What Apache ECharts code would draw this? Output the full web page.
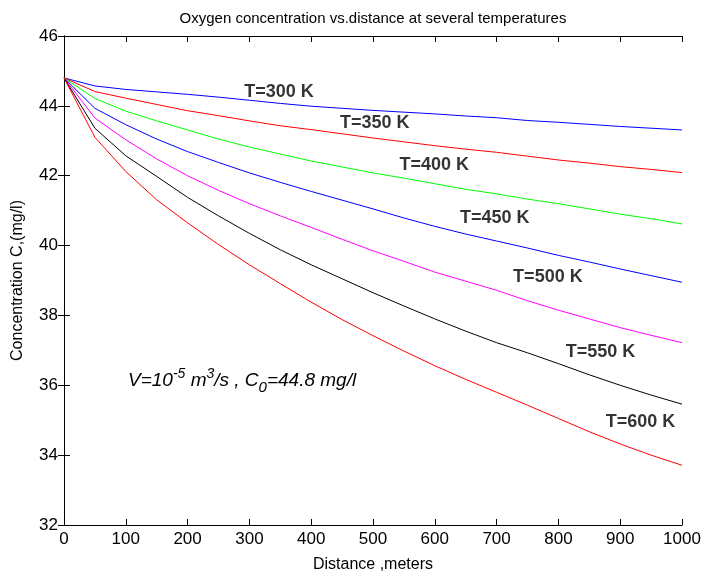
<!DOCTYPE html>
<html>
<head>
<meta charset="utf-8">
<script src="https://cdn.jsdelivr.net/npm/echarts@6/dist/echarts.min.js"></script>
<style>
  html, body { margin: 0; padding: 0; background: #fff; }
  #chart { width: 704px; height: 581px; }
</style>
</head>
<body>
<div id="chart"></div>
<script>
// distance along the stream, meters
const distance = [0, 50, 100, 150, 200, 250, 300, 350, 400, 450, 500,
  550, 600, 650, 700, 750, 800, 850, 900, 950, 1000];

// concentration C (mg/l) for each temperature
const c300 = [44.8, 44.57, 44.47, 44.4, 44.33, 44.25, 44.16, 44.07, 43.99, 43.93, 43.87,
  43.82, 43.77, 43.71, 43.66, 43.58, 43.53, 43.47, 43.41, 43.36, 43.31];
const c350 = [44.8, 44.41, 44.22, 44.04, 43.86, 43.72, 43.57, 43.43, 43.32, 43.2, 43.08,
  42.97, 42.86, 42.76, 42.67, 42.56, 42.45, 42.36, 42.26, 42.18, 42.09];
const c400 = [44.8, 44.21, 43.85, 43.57, 43.31, 43.05, 42.82, 42.62, 42.42, 42.25, 42.08,
  41.93, 41.77, 41.61, 41.48, 41.33, 41.2, 41.05, 40.9, 40.77, 40.62];
const c450 = [44.8, 43.93, 43.46, 43.05, 42.69, 42.38, 42.08, 41.81, 41.55, 41.3, 41.05,
  40.79, 40.55, 40.33, 40.13, 39.93, 39.72, 39.53, 39.33, 39.14, 38.95];
const c500 = [44.8, 43.65, 43.03, 42.48, 42.0, 41.58, 41.2, 40.85, 40.52, 40.18, 39.85,
  39.55, 39.24, 38.98, 38.72, 38.42, 38.15, 37.9, 37.65, 37.43, 37.22];
const c550 = [44.8, 43.36, 42.57, 41.98, 41.38, 40.85, 40.35, 39.88, 39.45, 39.05, 38.65,
  38.27, 37.9, 37.55, 37.22, 36.93, 36.62, 36.3, 36.0, 35.72, 35.46];
const c600 = [44.8, 43.1, 42.12, 41.31, 40.65, 40.03, 39.45, 38.91, 38.38, 37.88, 37.42,
  36.98, 36.56, 36.17, 35.8, 35.43, 35.05, 34.67, 34.32, 34.0, 33.71];

const curveNames = ["T=300 K", "T=350 K", "T=400 K", "T=450 K", "T=500 K", "T=550 K", "T=600 K"];
const curveColors = ["#0000ff", "#ff0000", "#00ff00", "#0000ff", "#ff00ff", "#000000", "#ff0000"];
const curves = [c300, c350, c400, c450, c500, c550, c600];

// where the curve labels sit (data coords)
const labelX = [348, 503, 599, 697, 783, 868, 933];
const labelY = [44.4, 43.51, 42.31, 40.8, 39.09, 36.94, 34.94];

const myChart = echarts.init(document.getElementById("chart"));

const font = "Liberation Sans, Arial, Helvetica, sans-serif";

const lineSeries = curves.map((vals, i) => ({
  name: curveNames[i],
  type: "line",
  symbol: "none",
  animation: false,
  lineStyle: { color: curveColors[i], width: 1 },
  data: distance.map((d, j) => [d, vals[j]]),
}));

const labelSeries = {
  type: "scatter",
  symbolSize: 0,
  silent: true,
  animation: false,
  label: {
    show: true,
    position: "inside",
    formatter: (p) => curveNames[p.dataIndex],
    color: "#000",
    textBorderWidth: 0,
    fontFamily: font,
    fontWeight: "bold",
    fontSize: 18,
  },
  data: labelX.map((x, i) => [x, labelY[i]]),
};

const boxTick = { show: true, inside: true, length: 6, lineStyle: { color: "#000" } };
const boxLine = { show: true, lineStyle: { color: "#000", width: 1 } };

myChart.setOption({
  backgroundColor: "#fff",
  title: {
    text: "Oxygen concentration vs.distance at several temperatures",
    left: 368,
    textAlign: "center",
    top: 6,
    textStyle: { fontFamily: font, fontWeight: "normal", fontSize: 15, color: "#000" },
  },
  grid: { left: 64, right: 22, top: 36, bottom: 56 },
  xAxis: [
    {
      type: "value",
      min: 0,
      max: 1000,
      interval: 100,
      name: "Distance ,meters",
      nameLocation: "middle",
      nameGap: 32,
      nameTextStyle: { fontFamily: font, fontSize: 16, color: "#000" },
      axisLine: boxLine,
      axisTick: boxTick,
      axisLabel: { fontFamily: font, fontSize: 17, color: "#000", margin: 6, formatter: (v) => String(v) },
      splitLine: { show: false },
    },
    {
      type: "value",
      position: "top",
      min: 0,
      max: 1000,
      interval: 100,
      axisLine: boxLine,
      axisTick: boxTick,
      axisLabel: { show: false },
      splitLine: { show: false },
    },
  ],
  yAxis: [
    {
      type: "value",
      min: 32,
      max: 46,
      interval: 2,
      name: "Concentration C,(mg/l)",
      nameLocation: "middle",
      nameGap: 38,
      nameTextStyle: { fontFamily: font, fontSize: 16, color: "#000" },
      axisLine: boxLine,
      axisTick: boxTick,
      axisLabel: { fontFamily: font, fontSize: 17, color: "#000", margin: 6 },
      splitLine: { show: false },
    },
    {
      type: "value",
      position: "right",
      min: 32,
      max: 46,
      interval: 2,
      axisLine: boxLine,
      axisTick: boxTick,
      axisLabel: { show: false },
      splitLine: { show: false },
    },
  ],
  graphic: [
    {
      type: "text",
      left: 128,
      top: 367,
      style: {
        text: "{a|V=10}{s|-5}{a| m}{s|3}{a|/s , C}{b|0}{a|=44.8 mg/l}",
        rich: {
          a: { fontFamily: font, fontStyle: "italic", fontSize: 19, color: "#000", verticalAlign: "bottom", lineHeight: 30 },
          s: { fontFamily: font, fontStyle: "italic", fontSize: 14, color: "#000", verticalAlign: "bottom", lineHeight: 30, padding: [0, 0, 9, 0] },
          b: { fontFamily: font, fontStyle: "italic", fontSize: 15, color: "#000", verticalAlign: "bottom", lineHeight: 30, padding: [0, 0, -5, 0] },
        },
      },
    },
  ],
  series: [...lineSeries, labelSeries],
});
</script>
</body>
</html>
